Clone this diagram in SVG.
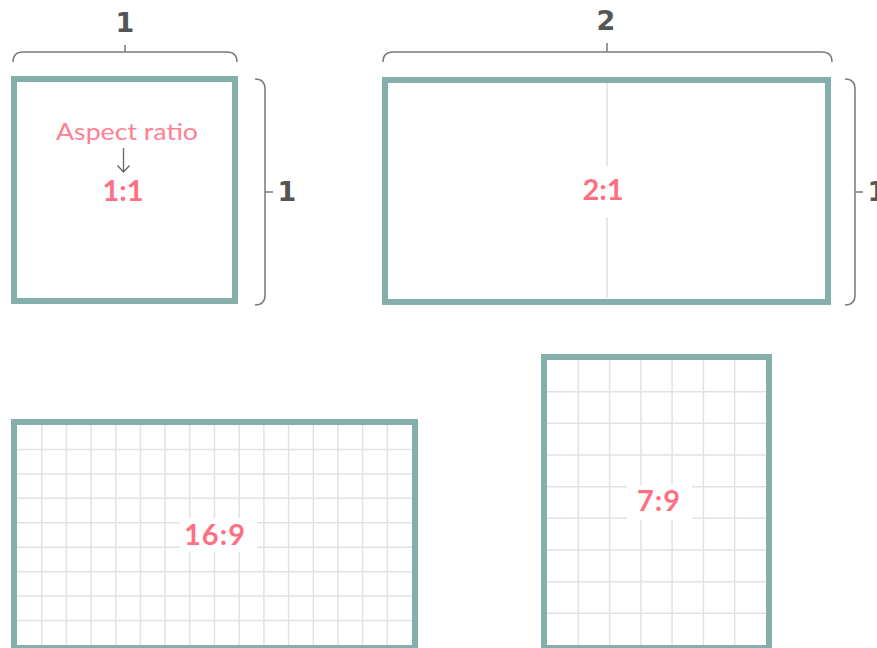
<svg xmlns="http://www.w3.org/2000/svg" width="877" height="648" viewBox="0 0 877 648">
<style>
.frame{fill:none;stroke:#84AFAB;stroke-width:6}
.grid{fill:none;stroke:#E2E2E2;stroke-width:1.5}
.brace{fill:none;stroke:#7A7A7A;stroke-width:1.5}
.dim{font-family:"DejaVu Sans","Liberation Sans",sans-serif;font-weight:bold;font-size:27px;fill:#555555;text-anchor:middle}
.ratio{font-family:Lato,"Open Sans","Liberation Sans",sans-serif;font-weight:bold;font-size:29px;fill:#FF6F82;text-anchor:middle}
.note{font-family:Lato,"Open Sans","Liberation Sans",sans-serif;font-size:23px;fill:#FF8092;text-anchor:middle}
</style>
<rect width="877" height="648" fill="#FFFFFF"/>

<g id="box-1-1">
  <rect class="frame" x="14" y="79" width="221" height="222"/>
  <text class="note" x="127" y="139.5" textLength="142" lengthAdjust="spacingAndGlyphs">Aspect ratio</text>
  <path d="M123.5,148 V172 M117.5,165.5 L123.5,172 L129.5,165.5" fill="none" stroke="#666666" stroke-width="1.3"/>
  <text class="ratio" x="123" y="201">1:1</text>
</g>

<g id="box-2-1">
  <path d="M607,83 V298" stroke="#D0D0D0" stroke-width="1"/>
  <rect x="580" y="166" width="48" height="51" fill="#FFFFFF"/>
  <rect class="frame" x="385" y="80" width="443" height="222"/>
  <text class="ratio" x="603" y="200">2:1</text>
</g>

<g id="box-16-9">
  <path class="grid" d="M41.7,425V648M66.4,425V648M91.1,425V648M115.8,425V648M140.4,425V648M165.1,425V648M189.8,425V648M214.5,425V648M239.2,425V648M263.9,425V648M288.6,425V648M313.3,425V648M338,425V648M362.6,425V648M387.3,425V648M17,449.4H412M17,473.9H412M17,498.3H412M17,522.8H412M17,547.2H412M17,571.7H412M17,596.1H412M17,620.6H412"/>
  <rect x="180" y="518" width="77" height="34" fill="#FFFFFF"/>
  <rect class="frame" x="14" y="422" width="401" height="226"/>
  <text class="ratio" x="215" y="545" letter-spacing="1">16:9</text>
</g>

<g id="box-7-9">
  <path class="grid" d="M578.3,360V648M609.6,360V648M640.9,360V648M672.1,360V648M703.4,360V648M734.7,360V648M547,391.7H766M547,423.3H766M547,455H766M547,486.7H766M547,518.3H766M547,550H766M547,581.7H766M547,613.3H766"/>
  <rect x="627" y="485" width="65" height="35" fill="#FFFFFF"/>
  <rect class="frame" x="544" y="357" width="225" height="291"/>
  <text class="ratio" x="659" y="511" letter-spacing="1">7:9</text>
</g>

<g id="dimensions">
  <path class="brace" d="M13,62 Q13,52 23,52 H227 Q237,52 237,62 M125,52 V45"/>
  <text class="dim" x="125" y="32">1</text>
  <path class="brace" d="M255,79 Q265,79 265,89 V295 Q265,305 255,305 M265,192 H273"/>
  <text class="dim" x="287" y="201">1</text>
  <path class="brace" d="M383,62 Q383,52 393,52 H822 Q832,52 832,62 M607,52 V43"/>
  <text class="dim" x="606" y="30">2</text>
  <path class="brace" d="M845,79 Q855,79 855,89 V295 Q855,305 845,305 M855,192 H863"/>
  <text class="dim" x="877" y="201">1</text>
</g>
</svg>
